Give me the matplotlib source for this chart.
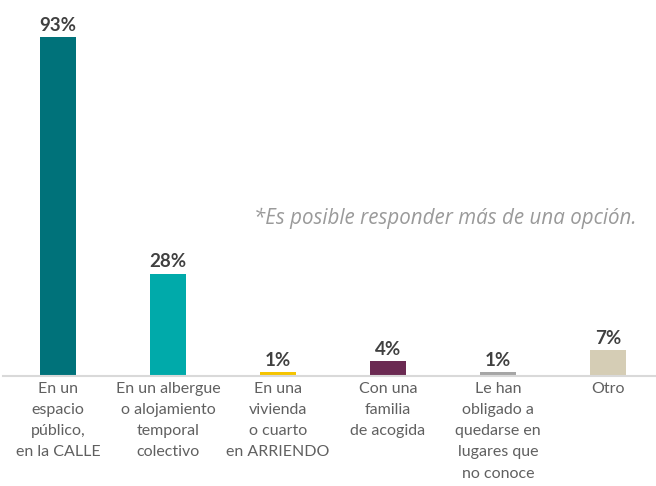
import matplotlib
matplotlib.use("Agg")
import matplotlib.pyplot as plt

categories = [
    "En un\nespacio\npúblico,\nen la CALLE",
    "En un albergue\no alojamiento\ntemporal\ncolectivo",
    "En una\nvivienda\no cuarto\nen ARRIENDO",
    "Con una\nfamilia\nde acogida",
    "Le han\nobligado a\nquedarse en\nlugares que\nno conoce",
    "Otro",
]
values = [93, 28, 1, 4, 1, 7]
value_labels = ["93%", "28%", "1%", "4%", "1%", "7%"]
colors = ["#00727A", "#00AAAA", "#F5C400", "#6B2A52", "#A6A6A6", "#D5CDB5"]
note = "*Es posible responder más de una opción."

W, H = 656, 486
fig = plt.figure(figsize=(W / 100, H / 100), dpi=100)
ax = fig.add_axes([3 / W, 110 / H, 653 / W, 376 / H])
x = list(range(len(values)))
ax.bar(x, values, width=0.32, color=colors)
ax.set_xlim(-0.5, -0.5 + 653 / 110)
ax.set_ylim(0, 376 / 3.645)
for s in ["top", "right", "left"]:
    ax.spines[s].set_visible(False)
ax.spines["bottom"].set_color("#D9D9D9")
ax.spines["bottom"].set_linewidth(1.5)
ax.set_yticks([])
ax.set_xticks([])

for xi, v, lab in zip(x, values, value_labels):
    ax.annotate(lab, (xi, v), xytext=(0, 2.5), textcoords="offset points",
                ha="center", va="bottom", fontsize=13.5, fontweight="bold",
                color="#404040", family="Lato")

for xi, cat in zip(x, categories):
    ax.annotate(cat, (xi, 0), xytext=(0, -4), textcoords="offset points",
                ha="center", va="top", fontsize=11.5, color="#606060",
                family="Lato", linespacing=1.66)

fig.text(636 / W, 1 - 218 / H, note, ha="right", va="center", fontsize=14.8,
         style="italic", color="#9A9A9A", family="Open Sans")

fig.savefig("out.png", dpi=100)
